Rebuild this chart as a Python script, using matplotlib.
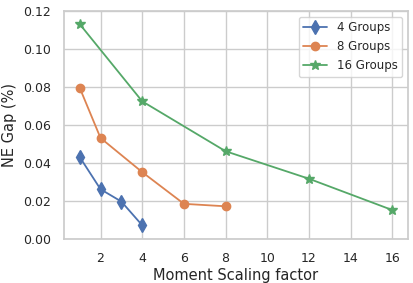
import numpy as np
import matplotlib
matplotlib.use("Agg")
import matplotlib.pyplot as plt
import seaborn as sns

sns.set_theme(style="whitegrid")

x4 = [1, 2, 3, 4]
y4 = [0.043, 0.026, 0.0195, 0.007]
x8 = [1, 2, 4, 6, 8]
y8 = [0.0795, 0.053, 0.035, 0.0183, 0.017]
x16 = [1, 4, 8, 12, 16]
y16 = [0.113, 0.0723, 0.046, 0.0315, 0.015]

pal = sns.color_palette("deep")

fig, ax = plt.subplots(figsize=(4.13, 2.83), dpi=100)
ax.plot(x4, y4, marker="d", markersize=7.5, lw=1.3, color=pal[0], label="4 Groups")
ax.plot(x8, y8, marker="o", markersize=6, lw=1.3, color=pal[1], label="8 Groups")
ax.plot(x16, y16, marker="*", markersize=7, lw=1.3, color=pal[2], label="16 Groups")

ax.set_ylim(0, 0.12)
ax.set_xticks([2, 4, 6, 8, 10, 12, 14, 16])
ax.set_yticks(np.arange(0, 0.121, 0.02))
ax.set_yticklabels(["%.2f" % v for v in np.arange(0, 0.121, 0.02)])
ax.tick_params(labelsize=9)
ax.set_xlabel("Moment Scaling factor", fontsize=10.5, labelpad=2)
ax.set_ylabel("NE Gap (%)", fontsize=10.5, labelpad=4)
ax.legend(loc="upper right", fontsize=8.5)

plt.subplots_adjust(left=0.155, right=0.988, top=0.962, bottom=0.157)
fig.savefig("out.png", dpi=100)
